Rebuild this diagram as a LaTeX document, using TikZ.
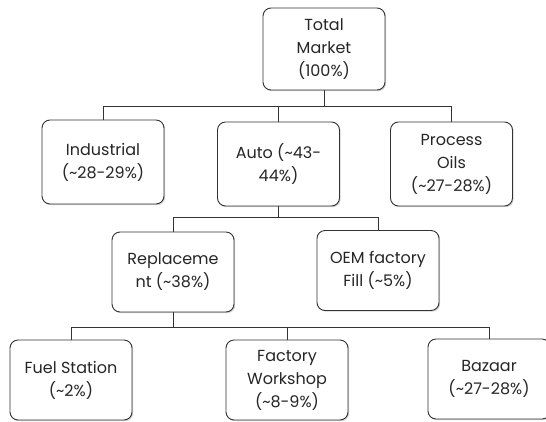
\documentclass[tikz,border=0pt]{standalone}
\usepackage{fontspec}
\setmainfont{Poppins}
\usepackage{tikz}
\usetikzlibrary{shadows}

\tikzset{
  box/.style={draw=black!80, line width=0.9pt, fill=white, rounded corners=8pt,
    minimum width=122pt, minimum height=82pt, align=center, inner sep=2pt,
    font=\fontsize{16}{23}\selectfont, text=black!85,
    drop shadow={shadow xshift=1.2pt, shadow yshift=-1.2pt, opacity=0.35}},
  link/.style={draw=black!80, line width=0.8pt}
}

\begin{document}
\begin{tikzpicture}[x=1pt,y=1pt]
      \useasboundingbox (0,0) rectangle (546,-421);

      \node[box] (total) at (324,-49) {Total\\Market\\(100\%)};

      \node[box, minimum height=84pt] (ind) at (103,-162) {Industrial\\(\textasciitilde28-29\%)};
      \node[box, minimum height=84pt] (auto) at (278.5,-164) {Auto (\textasciitilde43-\\44\%)};
      \node[box, minimum height=84pt] (proc) at (451.5,-164) {Process\\Oils\\(\textasciitilde27-28\%)};

      \node[box, minimum height=80pt] (repl) at (173,-272) {Replaceme\\nt (\textasciitilde38\%)};
      \node[box, minimum height=80pt] (oem) at (378,-270.5) {OEM factory\\Fill (\textasciitilde5\%)};

      \node[box, minimum height=80pt] (fuel) at (71,-380) {Fuel Station\\(\textasciitilde2\%)};
      \node[box, minimum height=80pt] (fact) at (287,-380) {Factory\\Workshop\\(\textasciitilde8-9\%)};
      \node[box, minimum height=80pt] (baz) at (489,-379) {Bazaar\\(\textasciitilde27-28\%)};

      \draw[link] (total.south) -- ++(0,-16) -| (ind.north);
      \draw[link] (total.south) -- ++(0,-16) -| (auto.north);
      \draw[link] (total.south) -- ++(0,-16) -| (proc.north);

      \draw[link] (auto.south) -- ++(0,-11) -| (repl.north);
      \draw[link] (auto.south) -- ++(0,-11) -| (oem.north);

      \draw[link] (repl.south) -- ++(0,-15) -| (fuel.north);
      \draw[link] (repl.south) -- ++(0,-15) -| (fact.north);
      \draw[link] (repl.south) -- ++(0,-15) -| (baz.north);
    \end{tikzpicture}
\end{document}
